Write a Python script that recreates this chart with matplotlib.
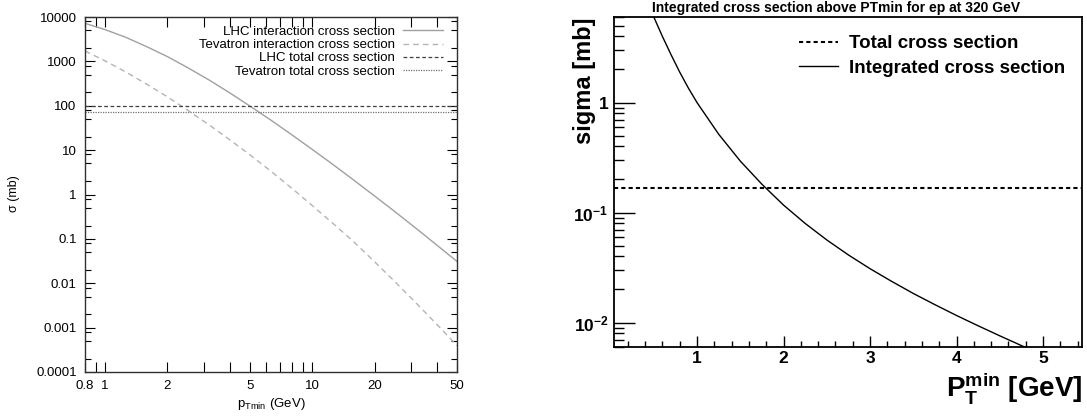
import numpy as np
import matplotlib.pyplot as plt
from matplotlib.ticker import FixedLocator, FixedFormatter, NullFormatter

plt.rcParams['font.family'] = ['Liberation Sans', 'DejaVu Sans']
plt.rcParams['mathtext.fontset'] = 'custom'
plt.rcParams['mathtext.rm'] = 'Liberation Sans'
plt.rcParams['mathtext.it'] = 'Liberation Sans:italic'
plt.rcParams['mathtext.bf'] = 'Liberation Sans:bold'

# left panel: pp / ppbar interaction cross sections vs pTmin
pt_min = [0.8, 1, 1.26, 1.58, 2, 2.5, 3.2, 4, 5, 6.3, 8, 10, 12.6, 15.8, 20, 25, 32, 40, 50]
sig_lhc = [7200, 5200, 3480, 2170, 1280, 726, 373, 195, 98.6, 47.8, 21.9, 10.4, 4.73, 2.14,
           0.927, 0.415, 0.167, 0.0721, 0.031]
sig_tev = [1715, 1026, 577, 310, 159, 79.8, 36.2, 17.1, 7.85, 3.39, 1.36, 0.564, 0.223, 0.0873,
           0.0306, 0.011, 0.00344, 0.00118, 0.000394]
sig_tot_lhc = 100
sig_tot_tev = 73

# right panel: ep at 320 GeV
pt_ep = [0.45, 0.5, 0.6, 0.7, 0.8, 0.9, 1.0, 1.25, 1.5, 1.75, 2.0, 2.25, 2.5, 2.75, 3.0,
         3.25, 3.5, 3.75, 4.0, 4.25, 4.5, 4.75, 5.0]
sig_ep = [7.4, 6.0, 3.99, 2.72, 1.89, 1.355, 1.0, 0.516, 0.294, 0.181, 0.117, 0.0797, 0.0564,
          0.0412, 0.0309, 0.0237, 0.0184, 0.01455, 0.0116, 0.00935, 0.00758, 0.00618, 0.00506]
sig_tot_ep = 0.166

W, H = 1087, 417
fig = plt.figure(figsize=(W / 100, H / 100), dpi=100)

# ---- left panel (gnuplot look)
ax1 = fig.add_axes([85 / W, 1 - 372 / H, (457 - 85) / W, (372 - 17) / H])
ax1.plot(pt_min, sig_lhc, color='#a0a0a0', lw=1.0, label='LHC interaction cross section')
ax1.plot(pt_min, sig_tev, color='#b4b4b4', lw=1.0, dashes=(4, 3), label='Tevatron interaction cross section')
ax1.axhline(sig_tot_lhc, color='#404040', lw=0.9, dashes=(3, 2), label='LHC total cross section')
ax1.axhline(sig_tot_tev, color='#707070', lw=0.9, dashes=(1, 1), label='Tevatron total cross section')
ax1.set_xscale('log')
ax1.set_yscale('log')
ax1.set_xlim(0.8, 50)
ax1.set_ylim(1e-4, 1e4)

xmaj = [0.8, 1, 2, 5, 10, 20, 50]
xmin_ = [0.9, 3, 4, 6, 7, 8, 9, 30, 40]
ax1.xaxis.set_major_locator(FixedLocator(xmaj))
ax1.xaxis.set_major_formatter(FixedFormatter(['0.8', '1', '2', '5', '10', '20', '50']))
ax1.xaxis.set_minor_locator(FixedLocator(xmin_))
ax1.xaxis.set_minor_formatter(NullFormatter())
ymaj = [1e-4, 1e-3, 1e-2, 1e-1, 1, 10, 100, 1000, 10000]
ymin_ = [m * d for d in ymaj[:-1] for m in (2, 5, 8)]
ax1.yaxis.set_major_locator(FixedLocator(ymaj))
ax1.yaxis.set_major_formatter(FixedFormatter(['0.0001', '0.001', '0.01', '0.1', '1', '10', '100', '1000', '10000']))
ax1.yaxis.set_minor_locator(FixedLocator(ymin_))
ax1.yaxis.set_minor_formatter(NullFormatter())
ax1.tick_params(which='both', direction='in', top=True, right=True, labelsize=9.5, width=0.8)
ax1.tick_params(axis='x', which='both', length=7, pad=6)
ax1.tick_params(axis='y', which='major', length=7, pad=6)
ax1.tick_params(axis='y', which='minor', length=4)
for s in ax1.spines.values():
    s.set_linewidth(1.0)
    s.set_color('#303030')

ax1.legend(loc='upper right', bbox_to_anchor=(0.962, 0.975), frameon=False, markerfirst=False,
           fontsize=9.5, handlelength=3.0, handletextpad=0.6, labelspacing=0.07,
           borderpad=0, borderaxespad=0)
fig.text(14 / W, 1 - 194 / H, 'σ (mb)', rotation=90, ha='center', va='center', fontsize=9)
fig.text(271 / W, 1 - 404 / H, r'p$_{\rm Tmin}$ (GeV)', ha='center', va='center', fontsize=9.5)

# ---- right panel (ROOT look)
ax2 = fig.add_axes([614 / W, 1 - 347 / H, (1082 - 614) / W, (347 - 17) / H])
ax2.axhline(sig_tot_ep, color='black', lw=1.5, dashes=(2, 1.5), label='Total cross section')
ax2.plot(pt_ep, sig_ep, color='black', lw=1.0, label='Integrated cross section')
ax2.set_yscale('log')
ax2.set_xlim(0.04, 5.45)
ax2.set_ylim(0.006, 6.0)

ax2.xaxis.set_major_locator(FixedLocator([1, 2, 3, 4, 5]))
ax2.xaxis.set_minor_locator(FixedLocator(np.arange(0.2, 5.45, 0.2)))
ax2.xaxis.set_minor_formatter(NullFormatter())
ax2.set_xticklabels(['1', '2', '3', '4', '5'], fontweight='bold')
ax2.yaxis.set_major_locator(FixedLocator([0.01, 0.1, 1]))
ax2.yaxis.set_minor_locator(FixedLocator([m * d for d in (0.001, 0.01, 0.1, 1) for m in range(2, 10)]))
ax2.yaxis.set_minor_formatter(NullFormatter())
ax2.set_yticklabels([r'$\mathbf{10^{-2}}$', r'$\mathbf{10^{-1}}$', '1'], fontweight='bold')
ax2.tick_params(which='both', direction='in', labelsize=12.5, width=1.0)
ax2.tick_params(axis='x', which='major', length=8, pad=3)
ax2.tick_params(axis='x', which='minor', length=4)
ax2.tick_params(axis='y', which='major', length=15, pad=4)
ax2.tick_params(axis='y', which='minor', length=7)
for s in ax2.spines.values():
    s.set_linewidth(1.3)

ax2.legend(loc='upper left', bbox_to_anchor=(0.395, 0.945), frameon=False,
           prop={'size': 13.5, 'weight': 'bold'}, handlelength=2.1, handletextpad=0.6,
           labelspacing=0.4, borderpad=0, borderaxespad=0)
fig.text(836 / W, 1 - 1 / H, 'Integrated cross section above PTmin for ep at 320 GeV',
         ha='center', va='top', fontsize=10, fontweight='bold')
fig.text(585 / W, 1 - 17 / H, 'sigma [mb]', rotation=90, ha='center', va='top',
         fontsize=17, fontweight='bold')
fig.text(1082 / W, 1 - 397 / H, r'$\mathbf{P_{T}^{min}}$ [GeV]', ha='right', va='baseline',
         fontsize=20, fontweight='bold')

fig.savefig('out.png', dpi=100)
